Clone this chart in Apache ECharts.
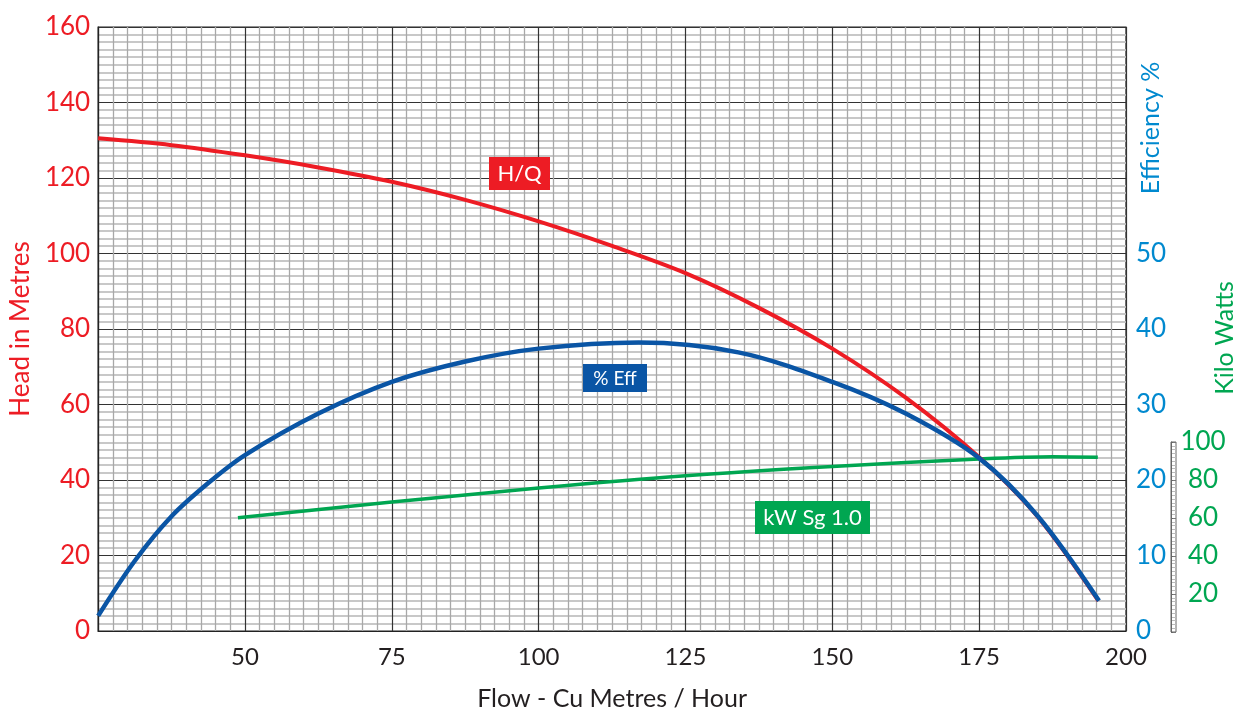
<!DOCTYPE html>
<html lang="en">
<head>
	<meta charset="utf-8">
	<title>Pump curve</title>
	<script src="https://cdn.jsdelivr.net/npm/echarts@6/dist/echarts.min.js"></script>
	<style>
		html, body { margin: 0; padding: 0; background: #fff; }
		#main { width: 1247px; height: 716px; }
	</style>
</head>
<body>
	<div id="main"></div>
	<script type="text/javascript">

		// flow (m3/h) against head in metres
		var hqData = [
			[25, 130.5], [37.5, 128.7], [50, 126], [62.5, 122.8], [75, 119], [87.5, 114.2],
			[100, 108.5], [112.5, 102], [125, 94.8], [137.5, 85.6], [150, 74.8], [162.5, 61.8],
			[175, 46], [185, 30.2], [195.3, 8]
		];
		// flow against efficiency %  (peak near 117)
		var effData = [
			[25, 2.0], [31.25, 9.3], [37.5, 15.2], [43.75, 19.6], [50, 23.3], [62.5, 28.8],
			[75, 33], [87.5, 35.7], [100, 37.4], [117, 38.2], [134, 36.9],
			[150, 33.0], [162.5, 28.8], [175, 22.9], [185, 15.2], [195.4, 4.0]
		];
		// flow against kW (Sg 1.0)
		var kwData = [
			[48.8, 60.0], [75, 68.3], [100, 75.7], [125, 82.2], [150, 87.1],
			[175, 91.1], [187.5, 92.3], [195.2, 92.0]
		];

		var RED = '#ed1c24', BLUE = '#0a55a5', LBLUE = '#0089cf', GREEN = '#00a651';
		var FONT = 'Lato';

		var myChart = echarts.init(document.getElementById('main'));

		var option = {
			animation: false,
			textStyle: { fontFamily: FONT },
			grid: [
				{ left: 95, top: 27, right: 121, bottom: 84, show: true, borderColor: '#222', borderWidth: 1.2 },
				// small kW ruler
				{ left: 1171, top: 442, width: 5, height: 190, show: true, borderColor: '#666', borderWidth: 1 }
			],
			xAxis: [
				{
					type: 'value', min: 25, max: 200, interval: 25,
					axisLine: { lineStyle: { color: '#222', width: 1.2 } },
					axisTick: { show: false },
					axisLabel: {
						color: '#231f20', fontSize: 24, margin: 14,
						formatter: function (v) { return v == 25 ? '' : v; }
					},
					splitLine: { lineStyle: { color: '#333', width: 1.2 } },
					minorTick: { show: false, splitNumber: 10 },
					minorSplitLine: { show: true, lineStyle: { color: '#a8a8a8', width: 1.3 } },
					name: 'Flow - Cu Metres / Hour', nameLocation: 'middle', nameGap: 55,
					nameTextStyle: { color: '#231f20', fontSize: 25 }
				},
				{ gridIndex: 1, type: 'value', min: 0, max: 1, show: false }
			],
			yAxis: [
				{
					type: 'value', min: 0, max: 160, interval: 20, position: 'left',
					axisLine: { show: true, lineStyle: { color: '#222', width: 1.2 } },
					axisTick: { show: false },
					axisLabel: { color: RED, fontSize: 26, margin: 8 },
					splitLine: { lineStyle: { color: '#333', width: 1.2 } },
					minorTick: { show: false, splitNumber: 10 },
					minorSplitLine: { show: true, lineStyle: { color: '#c8c8c8', width: 1.8 } },
					name: 'Head in Metres', nameLocation: 'middle', nameGap: 60,
					nameTextStyle: { color: RED, fontSize: 26 }
				},
				{
					// efficiency, 0-80 over the same height
					type: 'value', min: 0, max: 80, interval: 10, position: 'right',
					axisLine: { show: false }, axisTick: { show: false }, splitLine: { show: false },
					axisLabel: {
						color: LBLUE, fontSize: 26, margin: 10,
						formatter: function (v) { return v > 50 ? '' : v; }
					}
				},
				{
					// kW, 0-320 over the same height (hidden)
					type: 'value', min: 0, max: 320, show: false
				},
				{
					gridIndex: 1, type: 'value', min: 0, max: 100, interval: 20, position: 'right',
					axisLine: { show: true, lineStyle: { color: '#666' } },
					axisTick: { show: true, length: 2, lineStyle: { color: '#666' } },
					axisLabel: {
						color: GREEN, fontSize: 26, margin: 27, align: 'center',
						formatter: function (v) { return v == 0 ? '' : v; }
					},
					splitLine: { show: true, lineStyle: { color: '#777', width: 1 } },
					minorTick: { show: false, splitNumber: 10 },
					minorSplitLine: { show: true, lineStyle: { color: '#bbb', width: 1 } }
				}
			],
			series: [
				{
					name: 'kW Sg 1.0', type: 'line', yAxisIndex: 2, data: kwData,
					smooth: 0.33, showSymbol: false, z: 3,
					lineStyle: { color: GREEN, width: 3.5 }
				},
				{
					name: 'H/Q', type: 'line', yAxisIndex: 0, data: hqData,
					smooth: 0.33, showSymbol: false, z: 4,
					lineStyle: { color: RED, width: 4 }
				},
				{
					name: '% Eff', type: 'line', yAxisIndex: 1, data: effData,
					smooth: 0.33, showSymbol: false, z: 5,
					lineStyle: { color: BLUE, width: 4.5 }
				}
			],
			graphic: [
				// curve tags
				{ type: 'rect', left: 489, top: 157, shape: { width: 61, height: 33 }, style: { fill: RED }, z: 10 },
				{ type: 'text', x: 519.5, y: 174, z: 11, style: { text: 'H/Q', fill: '#fff', font: '22px ' + FONT, align: 'center', verticalAlign: 'middle' } },
				{ type: 'rect', left: 583, top: 364, shape: { width: 64, height: 28 }, style: { fill: BLUE }, z: 10 },
				{ type: 'text', x: 615, y: 378.5, z: 11, style: { text: '% Eff', fill: '#fff', font: '19px ' + FONT, align: 'center', verticalAlign: 'middle' } },
				{ type: 'rect', left: 755, top: 501, shape: { width: 115, height: 33 }, style: { fill: GREEN }, z: 10 },
				{ type: 'text', x: 812.5, y: 518, z: 11, style: { text: 'kW Sg 1.0', fill: '#fff', font: '22px ' + FONT, align: 'center', verticalAlign: 'middle' } },
				// right axis titles
				{ type: 'text', x: 1151, y: 128, rotation: Math.PI / 2, z: 11, style: { text: 'Efficiency %', fill: LBLUE, font: '25px ' + FONT, align: 'center', verticalAlign: 'middle' } },
				{ type: 'text', x: 1225, y: 338, rotation: Math.PI / 2, z: 11, style: { text: 'Kilo Watts', fill: GREEN, font: '25px ' + FONT, align: 'center', verticalAlign: 'middle' } }
			]
		};

		myChart.setOption(option);
	</script>
</body>
</html>
